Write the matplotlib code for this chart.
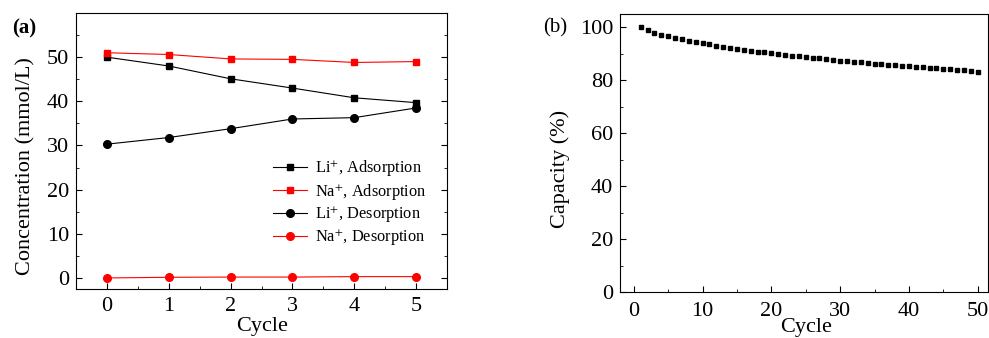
import numpy as np
import matplotlib.pyplot as plt
from matplotlib.ticker import MultipleLocator

plt.rcParams['font.family'] = ['Liberation Serif', 'DejaVu Serif']
plt.rcParams['mathtext.fontset'] = 'stix'

# panel (a) data
cycle_a = [0, 1, 2, 3, 4, 5]
li_ads = [50.0, 48.0, 45.1, 43.0, 40.8, 39.7]
na_ads = [51.0, 50.6, 49.6, 49.5, 48.8, 49.0]
li_des = [30.3, 31.8, 33.8, 36.0, 36.3, 38.5]
na_des = [0.0, 0.15, 0.2, 0.2, 0.3, 0.3]

# panel (b) data
cycle_b = list(range(1, 51))
capacity = [100.0, 99.1, 97.9, 97.1, 96.6, 95.9, 95.4, 94.9, 94.4, 94.0,
            93.5, 93.1, 92.7, 92.3, 91.9, 91.5, 91.2, 90.8, 90.5, 90.2,
            89.9, 89.6, 89.3, 89.0, 88.7, 88.4, 88.2, 87.9, 87.7, 87.4,
            87.2, 87.0, 86.7, 86.5, 86.3, 86.1, 85.9, 85.7, 85.5, 85.3,
            85.1, 84.9, 84.7, 84.5, 84.3, 84.1, 83.9, 83.7, 83.5, 83.2]

W, H = 989, 338
fs = 16
fig = plt.figure(figsize=(W / 100, H / 100), dpi=100)

# (a)
ax1 = fig.add_axes([76 / W, (H - 289) / H, (447 - 76) / W, (289 - 13) / H])
ax1.plot(cycle_a, li_ads, '-s', color='black', ms=5, lw=0.8, label='Li$^{+}$, Adsorption')
ax1.plot(cycle_a, na_ads, '-s', color='red', ms=5, lw=0.8, label='Na$^{+}$, Adsorption')
ax1.plot(cycle_a, li_des, '-o', color='black', ms=5.5, lw=0.8, label='Li$^{+}$, Desorption')
ax1.plot(cycle_a, na_des, '-o', color='red', ms=5.5, lw=0.8, label='Na$^{+}$, Desorption')
ax1.set_xlim(-0.5, 5.5)
ax1.set_ylim(-2.5, 60)
ax1.set_xticks(cycle_a)
ax1.set_yticks([0, 10, 20, 30, 40, 50])
ax1.xaxis.set_minor_locator(MultipleLocator(0.5))
ax1.yaxis.set_minor_locator(MultipleLocator(5))
ax1.tick_params(which='both', direction='in', right=True, labelsize=fs)
ax1.tick_params(which='major', length=4)
ax1.tick_params(which='minor', length=2.5)
ax1.tick_params(axis='x', pad=6)
ax1.tick_params(axis='y', pad=5)
ax1.set_xlabel('Cycle', fontsize=fs)
ax1.xaxis.set_label_coords(0.501, -0.1)
ax1.set_ylabel('Concentration (mmol/L)', fontsize=fs, va='center')
ax1.yaxis.set_label_coords(-0.135, 0.444)
ax1.legend(loc='center left', bbox_to_anchor=(273 / W, 1 - 203 / H),
           bbox_transform=fig.transFigure, frameon=False, fontsize=11.8,
           borderpad=0, borderaxespad=0, handlelength=2.1,
           handletextpad=0.45, labelspacing=0.22)
fig.text(12 / W, 1 - 28 / H, '(a)', fontsize=15, fontweight='bold', va='center')

# (b)
ax2 = fig.add_axes([620 / W, (H - 292) / H, (988 - 620) / W, (292 - 14) / H])
ax2.plot(cycle_b, capacity, 's', color='black', ms=2.4, ls='none')
ax2.set_xlim(-2, 51.5)
ax2.set_ylim(0, 105)
ax2.set_xticks([0, 10, 20, 30, 40, 50])
ax2.set_yticks([0, 20, 40, 60, 80, 100])
ax2.xaxis.set_minor_locator(MultipleLocator(5))
ax2.yaxis.set_minor_locator(MultipleLocator(10))
ax2.tick_params(which='both', direction='in', labelsize=fs)
ax2.tick_params(which='major', length=4)
ax2.tick_params(which='minor', length=2.5)
ax2.tick_params(axis='x', pad=7)
ax2.tick_params(axis='y', pad=5)
ax2.set_xlabel('Cycle', fontsize=fs)
ax2.xaxis.set_label_coords(0.505, -0.094)
ax2.set_ylabel('Capacity (%)', fontsize=fs, va='center')
ax2.yaxis.set_label_coords(-0.163, 0.442)
fig.text(543 / W, 1 - 28 / H, '(b)', fontsize=15, va='center')

plt.savefig('out.png', dpi=100)
